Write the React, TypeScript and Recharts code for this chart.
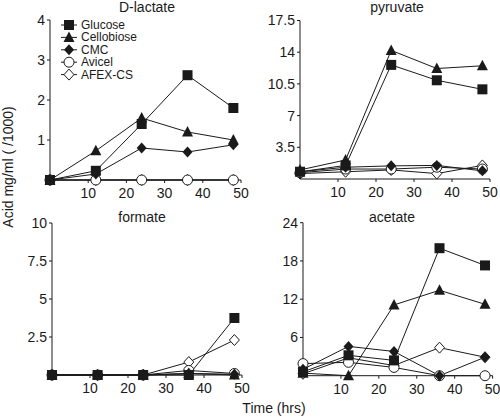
import React from 'react';
import { LineChart, Line, XAxis, YAxis, Legend } from 'recharts';

// sampling times (hours)
const hours = [0, 12, 24, 36, 48];

// series order: Glucose, Cellobiose, CMC, Avicel, AFEX-CS
const seriesNames = ['Glucose', 'Cellobiose', 'CMC', 'Avicel', 'AFEX-CS'];
const seriesShapes = ['square', 'triangle', 'diamond', 'circle', 'openDiamond'];

const lactateValues = [
  [0, 0.23, 1.4, 2.62, 1.8],
  [0, 0.73, 1.55, 1.2, 1.0],
  [0, 0.15, 0.8, 0.7, 0.88],
  [0, 0, 0, 0, 0],
  [0, 0, 0, 0, 0],
];

const pyruvateValues = [
  [0.8, 1.5, 12.6, 10.9, 9.9],
  [1.0, 2.1, 14.2, 12.2, 12.5],
  [0.8, 1.3, 1.45, 1.5, 0.9],
  [0.7, 1.1, 1.1, 1.3, 1.1],
  [0.6, 0.8, 1.0, 0.6, 1.5],
];

const formateValues = [
  [0, 0, 0, 0, 3.75],
  [0, 0, 0, 0.1, 0],
  [0, 0, 0, 0.1, 0.05],
  [0, 0, 0, 0.3, 0.1],
  [0, 0, 0, 0.85, 2.3],
];

const acetateValues = [
  [0.6, 3.2, 2.4, 20.0, 17.3],
  [0.4, 0, 11.1, 13.4, 11.2],
  [1.0, 4.6, 3.8, 0, 2.9],
  [1.9, 2.1, 1.3, 0, 0],
  [0.3, 2.8, 1.6, 4.4, 2.9],
];

const xTicks = [10, 20, 30, 40, 50];
const lactateTicks = [1, 2, 3, 4];
const pyruvateTicks = [3.5, 7, 10.5, 14, 17.5];
const formateTicks = [2.5, 5, 7.5, 10];
const acetateTicks = [6, 12, 18, 24];

const FONT = '"Liberation Sans", Arial, sans-serif';
const INK = '#1a1a1a';

const toRows = (values: number[][]) =>
  hours.map((h, i) => {
    const row: Record<string, number> = { hour: h };
    values.forEach((arr, s) => {
      row[`s${s}`] = arr[i];
    });
    return row;
  });

const Marker = ({ shape, cx, cy }: { shape: string; cx: number; cy: number }) => {
  if (cx == null || cy == null) return null;
  switch (shape) {
    case 'square':
      return <rect x={cx - 5} y={cy - 5} width={10} height={10} fill={INK} />;
    case 'triangle':
      return <polygon points={`${cx},${cy - 6} ${cx - 5.5},${cy + 4.5} ${cx + 5.5},${cy + 4.5}`} fill={INK} />;
    case 'diamond':
      return <polygon points={`${cx},${cy - 5.5} ${cx + 5},${cy} ${cx},${cy + 5.5} ${cx - 5},${cy}`} fill={INK} />;
    case 'circle':
      return <circle cx={cx} cy={cy} r={5} fill="#fff" stroke={INK} strokeWidth={1} />;
    default:
      return (
        <polygon
          points={`${cx},${cy - 5.5} ${cx + 5},${cy} ${cx},${cy + 5.5} ${cx - 5},${cy}`}
          fill="#fff"
          stroke={INK}
          strokeWidth={1}
        />
      );
  }
};

const LegendBox = () => (
  <svg width={90} height={66}>
    {seriesNames.map((name, i) => {
      const cy = 8 + i * 12.4;
      return (
        <g key={name}>
          <line x1={3} x2={19} y1={cy} y2={cy} stroke={INK} strokeWidth={1} />
          <Marker shape={seriesShapes[i]} cx={11} cy={cy} />
          <text x={23} y={cy + 4} fontSize={12} fontFamily={FONT} fill={INK}>
            {name}
          </text>
        </g>
      );
    })}
  </svg>
);

// draw order: AFEX-CS first, Glucose on top
const drawOrder = [4, 3, 2, 1, 0];

const panels = [
  { id: 'lac', values: lactateValues, ticks: lactateTicks, max: 4, left: 0, top: 0, margin: { top: 20, right: 9, left: 10, bottom: 0 }, legend: true },
  { id: 'pyr', values: pyruvateValues, ticks: pyruvateTicks, max: 17.5, left: 250, top: 0, margin: { top: 20.5, right: 10, left: 10, bottom: 1 }, legend: false },
  { id: 'for', values: formateValues, ticks: formateTicks, max: 10, left: 0, top: 200, margin: { top: 23, right: 8, left: 12, bottom: 5 }, legend: false },
  { id: 'ace', values: acetateValues, ticks: acetateTicks, max: 24, left: 250, top: 200, margin: { top: 22.7, right: 7.4, left: 13, bottom: 4.3 }, legend: false },
];

const titles = [
  { text: 'D-lactate', x: 147, y: 12 },
  { text: 'pyruvate', x: 397, y: 12 },
  { text: 'formate', x: 142, y: 221.5 },
  { text: 'acetate', x: 392, y: 221.5 },
];

const tickStyle = { fontSize: 14, fontFamily: FONT, fill: INK };

export default function App() {
  return (
    <div style={{ position: 'absolute', left: 0, top: 0, width: 500, height: 417, background: '#fff', overflow: 'hidden' }}>
      {panels.map((p) => (
        <div key={p.id} style={{ position: 'absolute', left: p.left, top: p.top }}>
          <LineChart width={250} height={210} data={toRows(p.values)} margin={p.margin}>
            <XAxis
              type="number"
              dataKey="hour"
              domain={[0, 50]}
              ticks={xTicks}
              tickSize={3}
              tickMargin={5}
              height={30}
              stroke={INK}
              tick={tickStyle}
              tickLine={{ stroke: INK }}
            />
            <YAxis
              type="number"
              domain={[0, p.max]}
              ticks={p.ticks}
              tickSize={3}
              tickMargin={2}
              width={40}
              stroke={INK}
              tick={tickStyle}
              tickLine={{ stroke: INK }}
            />
            {drawOrder.map((s) => (
              <Line
                key={s}
                dataKey={`s${s}`}
                name={seriesNames[s]}
                stroke={INK}
                strokeWidth={1}
                isAnimationActive={false}
                dot={(props: any) => (
                  <Marker key={`${p.id}-${s}-${props.index}`} shape={seriesShapes[s]} cx={props.cx} cy={props.cy} />
                )}
                activeDot={false}
              />
            ))}
            {p.legend && (
              <Legend
                layout="vertical"
                align="center"
                verticalAlign="middle"
                wrapperStyle={{ left: 58, top: 17, width: 90, height: 66 }}
                content={() => <LegendBox />}
              />
            )}
          </LineChart>
        </div>
      ))}
      <svg width={500} height={417} style={{ position: 'absolute', left: 0, top: 0, pointerEvents: 'none' }}>
        {titles.map((t) => (
          <text key={t.text} x={t.x} y={t.y} textAnchor="middle" fontSize={14} fontFamily={FONT} fill={INK}>
            {t.text}
          </text>
        ))}
        <text x={274} y={413} textAnchor="middle" fontSize={14} fontFamily={FONT} fill={INK}>
          Time (hrs)
        </text>
        <text
          x={0}
          y={0}
          transform="translate(12.5,167) rotate(-90)"
          textAnchor="middle"
          fontSize={14}
          fontFamily={FONT}
          fill={INK}
        >
          Acid mg/ml ( /1000)
        </text>
      </svg>
    </div>
  );
}
